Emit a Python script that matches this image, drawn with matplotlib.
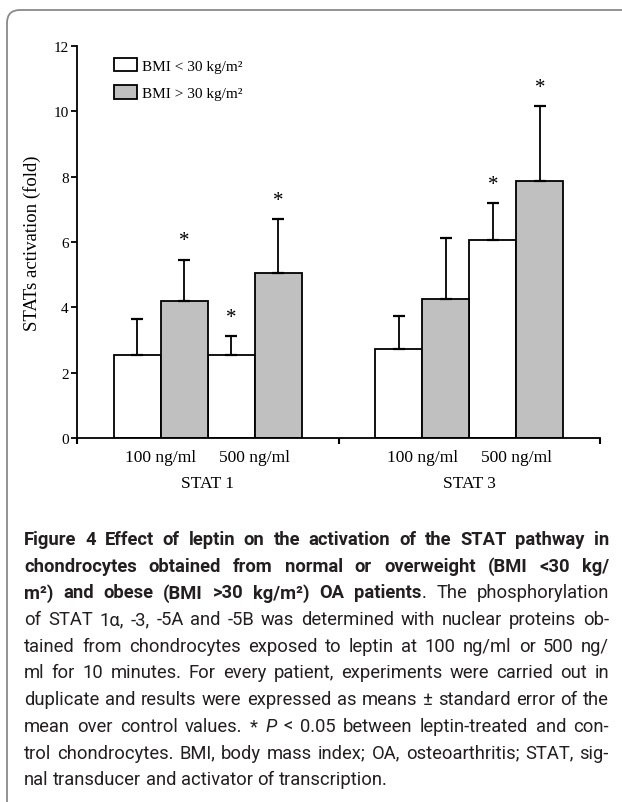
import matplotlib
matplotlib.use('Agg')
import matplotlib.pyplot as plt
import numpy as np
from matplotlib.patches import FancyBboxPatch
from matplotlib.transforms import IdentityTransform
from matplotlib.font_manager import FontProperties

# ---------------- data ----------------
groups = ['STAT 1', 'STAT 3']
doses = ['100 ng/ml', '500 ng/ml']
series = ['BMI < 30 kg/m²', 'BMI > 30 kg/m²']
# order: STAT1-100, STAT1-500, STAT3-100, STAT3-500
low_mean = [2.55, 2.55, 2.73, 6.07]
low_err = [1.10, 0.58, 0.99, 1.13]
high_mean = [4.18, 5.06, 4.27, 7.86]
high_err = [1.28, 1.65, 1.84, 2.29]
low_sig = [False, True, False, True]
high_sig = [True, True, False, True]
yticks = [0, 2, 4, 6, 8, 10, 12]

W, H = 622, 803
fig = plt.figure(figsize=(W / 100, H / 100), dpi=100)
fig.patch.set_facecolor('white')

# rounded border of the figure panel (extends past right/bottom edges)
border = FancyBboxPatch((7, -40), 700, H - 11 + 40,
                        boxstyle='round,pad=0,rounding_size=13',
                        edgecolor='#8a8a8a', facecolor='none', lw=1.3)
border.set_transform(IdentityTransform())
fig.add_artist(border)

ax = fig.add_axes([77 / W, 1 - 439 / H, (600 - 77) / W, (439 - 47) / H])
ax.set_facecolor('none')

serif = 'Liberation Serif'
width = 0.18
pair_off = [-0.18, 0.18]
pos_pairs = [g + 0.5 + o for g in range(len(groups)) for o in pair_off]
x_low = [p - width / 2 for p in pos_pairs]
x_high = [p + width / 2 for p in pos_pairs]

lw = 1.3
ax.bar(x_low, low_mean, width, color='white', edgecolor='black', lw=lw,
       label=series[0], zorder=2)
ax.bar(x_high, high_mean, width, color='#c0c0c0', edgecolor='black', lw=lw,
       label=series[1], zorder=2)
for xs, m, e in ((x_low, low_mean, low_err), (x_high, high_mean, high_err)):
    ax.errorbar(xs, m, yerr=[np.zeros(len(m)), e], fmt='none', ecolor='black',
                elinewidth=1.3, capsize=4, capthick=1.6, zorder=3)

for xs, m, e, sig in ((x_low, low_mean, low_err, low_sig),
                      (x_high, high_mean, high_err, high_sig)):
    for xi, mi, ei, s in zip(xs, m, e, sig):
        if s:
            ax.text(xi, mi + ei + 0.28, '*', ha='center', va='bottom',
                    fontsize=15, family=serif)

ax.set_xlim(0, 2)
ax.set_ylim(0, 12)
for s in ('top', 'right'):
    ax.spines[s].set_visible(False)
for s in ('left', 'bottom'):
    ax.spines[s].set_linewidth(1.3)

ax.set_yticks(yticks)
ax.set_yticklabels([str(v) for v in yticks], family=serif, fontsize=11)
ax.tick_params(axis='y', length=4, width=1.3, pad=2)

ax.set_xticks([0, 1, 2])
ax.set_xticklabels([])
ax.tick_params(axis='x', which='major', length=4, width=1.5)
ax.set_xticks(pos_pairs, minor=True)
ax.set_xticklabels(doses * len(groups), minor=True, family=serif, fontsize=12.5)
ax.tick_params(axis='x', which='minor', length=0, pad=8)

for g, name in enumerate(groups):
    ax.text(g + 0.5, -0.115, name, transform=ax.get_xaxis_transform(),
            ha='center', va='center', family=serif, fontsize=12.5)

ax.set_ylabel('STATs activation (fold)', family=serif, fontsize=13.5, labelpad=9)

leg = ax.legend(loc='upper left', bbox_to_anchor=(0.057, 0.99), frameon=False,
                borderpad=0, handlelength=1.5, handleheight=1.0,
                labelspacing=0.8, handletextpad=0.3,
                prop=FontProperties(family=serif, size=11))

# ---------------- caption (justified) ----------------
cap_lines = [
    [('Figure 4 Effect of leptin on the activation of the STAT pathway in', 'b')],
    [('chondrocytes obtained from normal or overweight (BMI <30 kg/', 'b')],
    [('m²) and obese (BMI >30 kg/m²) OA patients', 'b'), ('. The phosphorylation', 'n')],
    [('of STAT 1α, -3, -5A and -5B was determined with nuclear proteins ob-', 'n')],
    [('tained from chondrocytes exposed to leptin at 100 ng/ml or 500 ng/', 'n')],
    [('ml for 10 minutes. For every patient, experiments were carried out in', 'n')],
    [('duplicate and results were expressed as means ± standard error of the', 'n')],
    [('mean over control values. * ', 'n'), ('P', 'i'),
     (' < 0.05 between leptin-treated and con-', 'n')],
    [('trol chondrocytes. BMI, body mass index; OA, osteoarthritis; STAT, sig-', 'n')],
    [('nal transducer and activator of transcription.', 'n')],
]
cap_family = ['Roboto', 'DejaVu Sans']
cap_color = '#231f20'
x0, x1 = 24, 609
base0, step = 545, 26.7
renderer = fig.canvas.get_renderer()


def props(st, size):
    return dict(family=cap_family, fontsize=size,
                weight='bold' if st == 'b' else 'normal',
                style='italic' if st == 'i' else 'normal')


def measure(s, st, size):
    t = fig.text(0, 0, s, **props(st, size))
    w = t.get_window_extent(renderer).width
    t.remove()
    return w


def split_words(runs):
    words = [[]]
    for text, st in runs:
        parts = text.split(' ')
        for k, part in enumerate(parts):
            if k > 0:
                words.append([])
            if part:
                words[-1].append((part, st))
    return [w for w in words if w]


size = 13.2
for _ in range(10):
    sp = measure('a a', 'n', size) - measure('aa', 'n', size)
    worst = 0
    for runs in cap_lines[:-1]:
        ws = split_words(runs)
        tot = sum(measure(p, st, size) for w in ws for p, st in w) + sp * 0.8 * (len(ws) - 1)
        worst = max(worst, tot)
    if worst <= (x1 - x0):
        break
    size *= (x1 - x0) / worst * 0.995

sp = measure('a a', 'n', size) - measure('aa', 'n', size)
for i, runs in enumerate(cap_lines):
    ws = split_words(runs)
    widths = [[measure(p, st, size) for p, st in w] for w in ws]
    totals = [sum(w) for w in widths]
    if i < len(cap_lines) - 1 and len(ws) > 1:
        gap = ((x1 - x0) - sum(totals)) / (len(ws) - 1)
    else:
        gap = sp
    x = x0
    yb = 1 - (base0 + i * step) / H
    for w, wd in zip(ws, widths):
        xx = x
        for (p, st), pw in zip(w, wd):
            fig.text(xx / W, yb, p, ha='left', va='baseline', color=cap_color,
                     **props(st, size))
            xx += pw
        x += sum(wd) + gap

fig.savefig('out.png', dpi=100, facecolor='white')
